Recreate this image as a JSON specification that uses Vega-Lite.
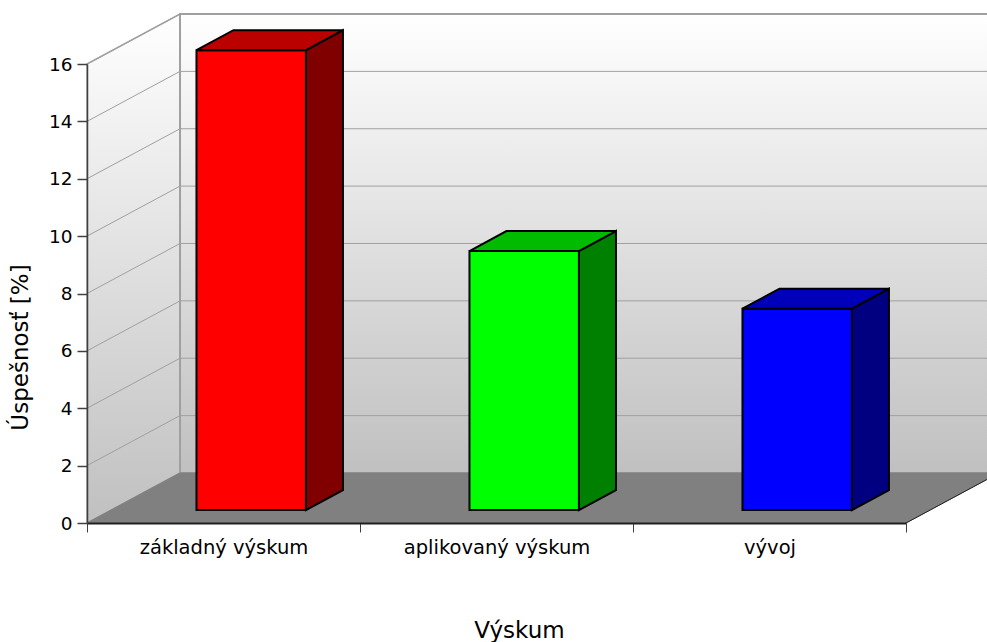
{
"$schema":"https://vega.github.io/schema/vega-lite/v6.json",
"width":819,"height":459,
"autosize":{"type":"none"},
"padding":{"left":87,"top":64,"right":81,"bottom":119},
"background":"white",
"datasets":{
"bars":[{"category":"základný výskum","value":16.03},{"category":"aplikovaný výskum","value":9.03},{"category":"vývoj","value":7.02}],
"ticks":[{"tick":0},{"tick":2},{"tick":4},{"tick":6},{"tick":8},{"tick":10},{"tick":12},{"tick":14},{"tick":16}],
"two":[{"u":0},{"u":1}],
"four":[{"u":0},{"u":1},{"u":2},{"u":3}]
},
"config":{"view":{"stroke":null},"font":"DejaVu Sans"},
"resolve":{"scale":{"color":"independent"}},
"layer":[
{"data":{"name":"two"},
 "transform":[{"calculate":"datum.u*0.3407","as":"px"},{"calculate":"datum.u*1.743","as":"py"},{"calculate":"16+datum.u*1.743","as":"py2"}],
 "mark":{"type":"area","stroke":"#a0a0a0","strokeWidth":1.5,"color":{"gradient":"linear","x1":0,"y1":0,"x2":0,"y2":1,"stops":[{"offset":0,"color":"#ffffff"},{"offset":1,"color":"#c0c0c0"}]}},
 "encoding":{
  "x":{"field":"px","type":"quantitative","scale":{"domain":[0,3],"nice":false,"zero":false},
   "axis":{"values":[0,0.5,1,1.5,2,2.5,3],"title":"Výskum","titleFontSize":23,"titleFontWeight":"normal","titleColor":"#000000","titleX":432,"titleY":96,"labelFontSize":19.5,"labelLimit":300,"labelColor":"#000000","labelPadding":6,"labelOverlap":false,"labelFlush":false,"labelExpr":"datum.value==0.5?'základný výskum':datum.value==1.5?'aplikovaný výskum':datum.value==2.5?'vývoj':''","tickColor":"#404040","tickSize":9,"tickOpacity":{"condition":{"test":"datum.value%1!==0","value":0},"value":1},"domainColor":"#202020","domainWidth":2,"grid":false,"zindex":1}},
  "y":{"field":"py","type":"quantitative","scale":{"domain":[0,16],"nice":false,"zero":false},
   "axis":{"values":[0,2,4,6,8,10,12,14,16],"title":"Úspešnosť [%]","titleFontSize":23,"titleFontWeight":"normal","titleColor":"#000000","titleX":-55,"titleY":283,"labelFontSize":18.5,"labelColor":"#000000","labelPadding":5,"tickColor":"#404040","tickSize":10,"tickWidth":1.5,"domainColor":"#404040","domainWidth":1.5,"grid":false,"zindex":1}},
  "y2":{"field":"py2"}
 }},
{"data":{"values":[{"wall":"back"}]},
 "transform":[{"calculate":"0.3407","as":"a"},{"calculate":"3.3407","as":"b"},{"calculate":"1.743","as":"c"},{"calculate":"17.743","as":"d"}],
 "mark":{"type":"rect","stroke":"#a0a0a0","strokeWidth":2,"color":{"gradient":"linear","x1":0,"y1":0,"x2":0,"y2":1,"stops":[{"offset":0,"color":"#ffffff"},{"offset":1,"color":"#c0c0c0"}]}},
 "encoding":{"x":{"field":"a","type":"quantitative"},"x2":{"field":"b"},"y":{"field":"c","type":"quantitative"},"y2":{"field":"d"}}},
{"data":{"name":"ticks"},
 "transform":[{"calculate":"datum.tick+1.743","as":"wy"},{"calculate":"0.3407","as":"a"},{"calculate":"3.3407","as":"b"}],
 "mark":{"type":"rule","color":"#a0a0a0","strokeWidth":1},
 "encoding":{"x":{"field":"a","type":"quantitative"},"x2":{"field":"b"},"y":{"field":"wy","type":"quantitative"}}},
{"data":{"name":"ticks"},
 "transform":[{"calculate":"datum.tick+1.743","as":"wy"},{"calculate":"0","as":"a"},{"calculate":"0.3407","as":"b"}],
 "mark":{"type":"rule","color":"#a0a0a0","strokeWidth":1},
 "encoding":{"x":{"field":"a","type":"quantitative"},"x2":{"field":"b"},"y":{"field":"tick","type":"quantitative"},"y2":{"field":"wy"}}},
{"data":{"name":"four"},
 "transform":[{"calculate":"[0,0.3407,3,3.3407][datum.u]","as":"px"},{"calculate":"datum.u==3?1.743:0","as":"py"},{"calculate":"datum.u==0?0:1.743","as":"py2"}],
 "mark":{"type":"area","color":"#808080","stroke":"#808080","strokeWidth":1},
 "encoding":{"x":{"field":"px","type":"quantitative"},"y":{"field":"py","type":"quantitative"},"y2":{"field":"py2"}}},
{"data":{"values":[{"edge":"floor"}]},
 "transform":[{"calculate":"3","as":"a"},{"calculate":"3.3407","as":"b"},{"calculate":"0","as":"c"},{"calculate":"1.743","as":"d"}],
 "mark":{"type":"rule","color":"#202020","strokeWidth":1},
 "encoding":{"x":{"field":"a","type":"quantitative"},"x2":{"field":"b"},"y":{"field":"c","type":"quantitative"},"y2":{"field":"d"}}},
{"data":{"name":"bars"},
 "transform":[{"calculate":"indexof(['základný výskum','aplikovaný výskum','vývoj'],datum.category)+0.401","as":"x0"},{"calculate":"datum.x0+0.401","as":"x1"},{"calculate":"0.45","as":"base"},{"calculate":"datum.value+0.45","as":"top"}],
 "mark":{"type":"rect","stroke":"#000000","strokeWidth":2},
 "encoding":{"x":{"field":"x0","type":"quantitative"},"x2":{"field":"x1"},"y":{"field":"base","type":"quantitative"},"y2":{"field":"top"},
  "color":{"field":"category","type":"nominal","legend":null,"scale":{"domain":["základný výskum","aplikovaný výskum","vývoj"],"range":["#ff0000","#00ff00","#0000ff"]}}}},
{"data":{"name":"bars"},
 "transform":[{"calculate":"indexof(['základný výskum','aplikovaný výskum','vývoj'],datum.category)+0.802","as":"x1"},{"calculate":"[0,1]","as":"u"},{"flatten":["u"]},{"calculate":"datum.x1+datum.u*0.1355","as":"px"},{"calculate":"0.45+datum.u*0.697","as":"py"},{"calculate":"datum.py+datum.value","as":"py2"}],
 "mark":{"type":"area","stroke":"#000000","strokeWidth":2},
 "encoding":{"x":{"field":"px","type":"quantitative"},"y":{"field":"py","type":"quantitative"},"y2":{"field":"py2"},
  "color":{"field":"category","type":"nominal","legend":null,"scale":{"domain":["základný výskum","aplikovaný výskum","vývoj"],"range":["#800000","#008000","#000080"]}}}},
{"data":{"name":"bars"},
 "transform":[{"calculate":"indexof(['základný výskum','aplikovaný výskum','vývoj'],datum.category)+0.401","as":"x0"},{"calculate":"datum.value+0.45","as":"top"},{"calculate":"[0,1,2,3]","as":"u"},{"flatten":["u"]},{"calculate":"datum.x0+[0,0.1355,0.401,0.5365][datum.u]","as":"px"},{"calculate":"datum.top+(datum.u==3?0.697:0)","as":"py"},{"calculate":"datum.top+(datum.u==0?0:0.697)","as":"py2"}],
 "mark":{"type":"area","stroke":"#000000","strokeWidth":2},
 "encoding":{"x":{"field":"px","type":"quantitative"},"y":{"field":"py","type":"quantitative"},"y2":{"field":"py2"},
  "color":{"field":"category","type":"nominal","legend":null,"scale":{"domain":["základný výskum","aplikovaný výskum","vývoj"],"range":["#bb0000","#00bb00","#0000bb"]}}}}
]}
